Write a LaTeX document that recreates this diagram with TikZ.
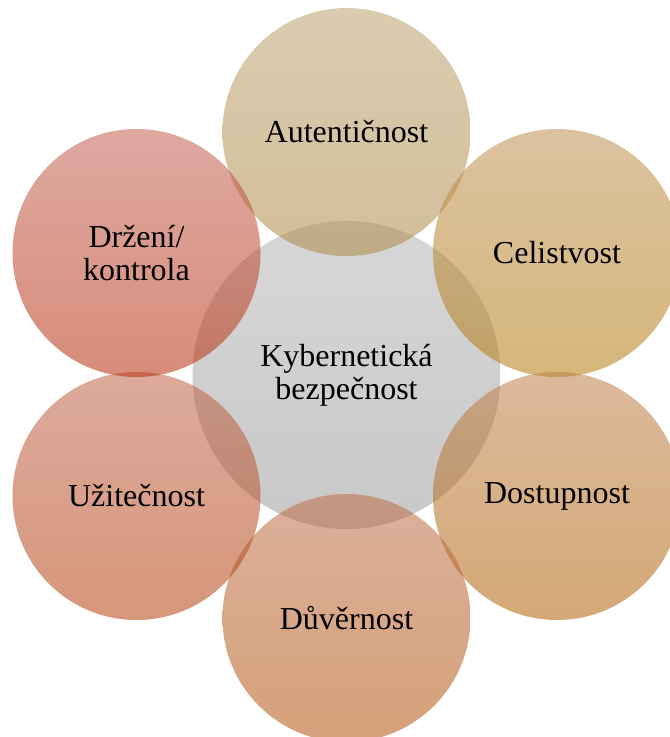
\documentclass[tikz,border=0pt]{standalone}
\usepackage{fontspec}
\setmainfont{Liberation Serif}

% Base colours of the translucent discs (drawn at 55% opacity)
\definecolor{hubTop}{RGB}{182,182,182}
\definecolor{hubBot}{RGB}{155,155,155}
\definecolor{autTop}{RGB}{188,162,111}
\definecolor{autBot}{RGB}{173,137,68}
\definecolor{celTop}{RGB}{190,144,82}
\definecolor{celBot}{RGB}{180,122,13}
\definecolor{dosTop}{RGB}{190,128,73}
\definecolor{dosBot}{RGB}{177,97,6}
\definecolor{duvTop}{RGB}{190,111,73}
\definecolor{duvBot}{RGB}{179,82,10}
\definecolor{uziTop}{RGB}{191,100,73}
\definecolor{uziBot}{RGB}{180,64,13}
\definecolor{drzTop}{RGB}{195,97,82}
\definecolor{drzBot}{RGB}{182,46,10}

\begin{document}
\begin{tikzpicture}[x=1pt,y=-1pt,
  disc/.style={circle, inner sep=0pt, draw=none, fill opacity=0.55},
  petal/.style={disc, minimum size=248pt},
  hubdisc/.style={disc, minimum size=308pt},
  petaltext/.style={font=\fontsize{32}{33}\selectfont, align=center, text=black, inner sep=0pt}]

\useasboundingbox (0,0) rectangle (670,737);
\clip (0,0) rectangle (670,737);

% central disc
\node[hubdisc, top color=hubTop, bottom color=hubBot] (hub) at (346.5,375) {};

% six surrounding discs
\node[petal, top color=autTop, bottom color=autBot] (aut) at (346.5,132) {};
\node[petal, top color=celTop, bottom color=celBot] (cel) at (557,253) {};
\node[petal, top color=dosTop, bottom color=dosBot] (dos) at (557,496) {};
\node[petal, top color=duvTop, bottom color=duvBot] (duv) at (346.5,618) {};
\node[petal, top color=uziTop, bottom color=uziBot] (uzi) at (136.5,496) {};
\node[petal, top color=drzTop, bottom color=drzBot] (drz) at (136.5,253) {};

% captions
\node[petaltext] (thub) at (hub.center) {Kybernetická\\bezpečnost};
\node[petaltext] (taut) at (aut.center) {Autentičnost};
\node[petaltext] (tcel) at (cel.center) {Celistvost};
\node[petaltext] (tdos) at (dos.center) {Dostupnost};
\node[petaltext] (tduv) at (duv.center) {Důvěrnost};
\node[petaltext] (tuzi) at (uzi.center) {Užitečnost};
\node[petaltext] (tdrz) at (drz.center) {Držení/\\kontrola};
\end{tikzpicture}
\end{document}
